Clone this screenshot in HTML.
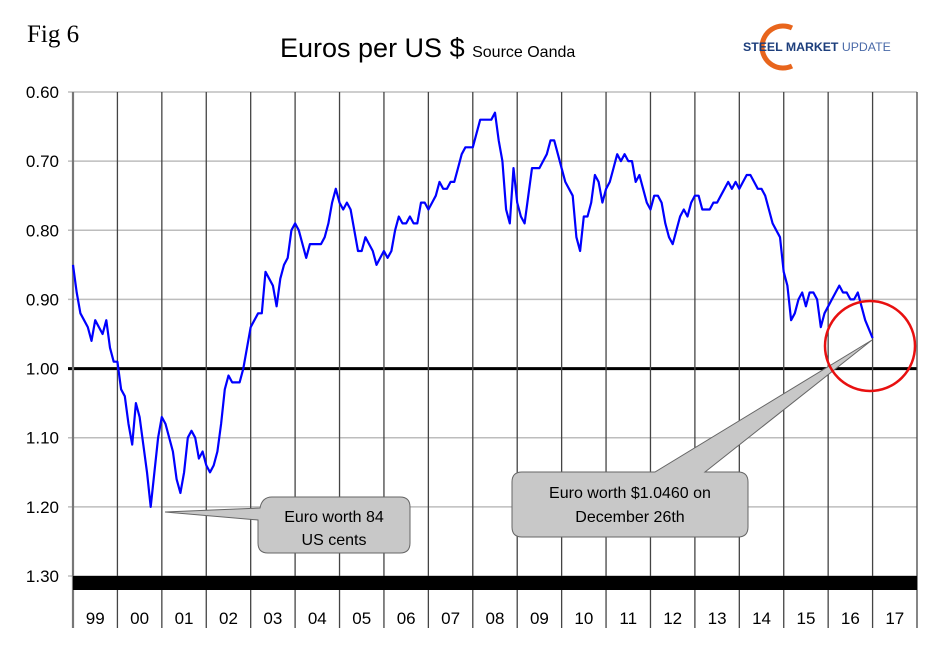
<!DOCTYPE html>
<html><head><meta charset="utf-8"><style>
body{margin:0;background:#fff;width:949px;height:648px;overflow:hidden;font-family:"Liberation Sans",Arial,sans-serif}
</style></head><body>
<svg id="chart" width="949" height="648" xmlns="http://www.w3.org/2000/svg">
<text x="27" y="42" font-family="Liberation Serif,serif" font-size="25">Fig 6</text>
<text x="280" y="57" font-size="27">Euros per US $ <tspan font-size="16">Source Oanda</tspan></text>
<g>
<path d="M792,28 A21,21 0 1,0 792,66" fill="none" stroke="#e8651c" stroke-width="5"/>
<text x="743" y="51" font-size="12.3" font-weight="bold" fill="#1d3e7c">STEEL MARKET <tspan font-weight="normal" fill="#4a6aa8">UPDATE</tspan></text>
</g>
<g id="grid"></g>
<g id="series"></g>
<g id="annot"></g>
</svg>
<script>
const years=['99','00','01','02','03','04','05','06','07','08','09','10','11','12','13','14','15','16','17'];
const yTicks=[0.6,0.7,0.8,0.9,1.0,1.1,1.2,1.3];
const startYear=1999;
const rate=[
0.85,0.89,0.92,0.93,0.94,0.96,0.93,0.94,0.95,0.93,0.97,0.99,
0.99,1.03,1.04,1.08,1.11,1.05,1.07,1.11,1.15,1.20,1.15,1.10,
1.07,1.08,1.10,1.12,1.16,1.18,1.15,1.10,1.09,1.10,1.13,1.12,
1.14,1.15,1.14,1.12,1.08,1.03,1.01,1.02,1.02,1.02,1.00,0.97,
0.94,0.93,0.92,0.92,0.86,0.87,0.88,0.91,0.87,0.85,0.84,0.80,
0.79,0.80,0.82,0.84,0.82,0.82,0.82,0.82,0.81,0.79,0.76,0.74,
0.76,0.77,0.76,0.77,0.80,0.83,0.83,0.81,0.82,0.83,0.85,0.84,
0.83,0.84,0.83,0.80,0.78,0.79,0.79,0.78,0.79,0.79,0.76,0.76,
0.77,0.76,0.75,0.73,0.74,0.74,0.73,0.73,0.71,0.69,0.68,0.68,
0.68,0.66,0.64,0.64,0.64,0.64,0.63,0.67,0.70,0.77,0.79,0.71,
0.76,0.78,0.79,0.75,0.71,0.71,0.71,0.70,0.69,0.67,0.67,0.69,
0.71,0.73,0.74,0.75,0.81,0.83,0.78,0.78,0.76,0.72,0.73,0.76,
0.74,0.73,0.71,0.69,0.70,0.69,0.70,0.70,0.73,0.72,0.74,0.76,
0.77,0.75,0.75,0.76,0.79,0.81,0.82,0.80,0.78,0.77,0.78,0.76,
0.75,0.75,0.77,0.77,0.77,0.76,0.76,0.75,0.74,0.73,0.74,0.73,
0.74,0.73,0.72,0.72,0.73,0.74,0.74,0.75,0.77,0.79,0.80,0.81,
0.86,0.88,0.93,0.92,0.90,0.89,0.91,0.89,0.89,0.90,0.94,0.92,
0.91,0.90,0.89,0.88,0.89,0.89,0.90,0.90,0.89,0.91,0.93,0.956];
const NS='http://www.w3.org/2000/svg';
const L=73,R=917,T=92,B=576;
const colW=(R-L)/years.length;
function xs(t){return L+(t-startYear)*colW;}
function ys(v){return T+(v-0.6)/0.7*(B-T);}
function mk(tag,attrs,parent){const e=document.createElementNS(NS,tag);for(const k in attrs)e.setAttribute(k,attrs[k]);parent.appendChild(e);return e;}
const grid=document.getElementById('grid');
yTicks.forEach(v=>{
  const y=ys(v);
  const ln=mk('line',{x1:L-5,x2:R,y1:y,y2:y,stroke:Math.abs(v-1)<1e-9?'#000':'#bdbdbd','stroke-width':Math.abs(v-1)<1e-9?3:1.5},grid);
  
  
  const t=mk('text',{x:L-14,y:y+6,'text-anchor':'end','font-size':17},grid);
  t.textContent=v.toFixed(2);
  
  
});
for(let i=0;i<=years.length;i++){
  const x=L+i*colW;
  const ln=mk('line',{x1:x,x2:x,y1:T,y2:628,stroke:i==0?'#777':'#444','stroke-width':i==0?2.2:1.3},grid);
  
  
}
const band=mk('rect',{x:L,y:B,width:R-L,height:14,fill:'#000'},grid);


years.forEach((yr,i)=>{
  const t=mk('text',{x:L+(i+0.5)*colW,y:624,'text-anchor':'middle','font-size':17},grid);
  t.textContent=yr;
  
  
});
const pts=rate.map((v,i)=>xs(startYear+i/12+(i==rate.length-1?1/12:0)).toFixed(1)+','+ys(v).toFixed(1));
const pl=mk('polyline',{points:pts.join(' '),fill:'none',stroke:'#0000ff','stroke-width':2.2,'stroke-linejoin':'round'},document.getElementById('series'));


</script>
<svg width="949" height="648" style="position:absolute;left:0;top:0">
<g>
<path d="M272,497 H400 Q410,497 410,507 V543 Q410,553 400,553 H268 Q258,553 258,543 V520 L165,512 L260,508 Q262,497 272,497 Z" fill="#c8c8c8" stroke="#666" stroke-width="1"/>
<text x="334" y="522" font-size="16" text-anchor="middle">Euro worth 84</text>
<text x="334" y="545" font-size="16" text-anchor="middle">US cents</text>
</g>
<g>
<path d="M522,472 H655 L872,340 L705,472 H738 Q748,472 748,482 V527 Q748,537 738,537 H522 Q512,537 512,527 V482 Q512,472 522,472 Z" fill="#c8c8c8" stroke="#666" stroke-width="1"/>
<text x="630" y="498" font-size="16" text-anchor="middle">Euro worth $1.0460 on</text>
<text x="630" y="522" font-size="16" text-anchor="middle">December 26th</text>
</g>
<circle cx="870" cy="346" r="45" fill="none" stroke="#e81010" stroke-width="2.5"/>
</svg>
</body></html>
